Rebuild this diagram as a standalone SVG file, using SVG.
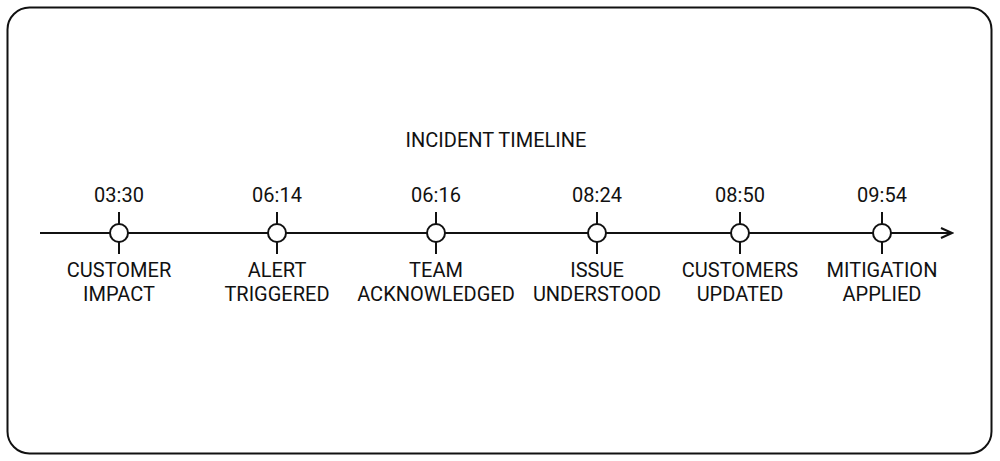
<svg xmlns="http://www.w3.org/2000/svg" width="1000" height="461" viewBox="0 0 1000 461">
<style>
text{font-family:Roboto,"Liberation Sans",sans-serif;font-size:20px;fill:#111;text-anchor:middle}
.ln{stroke:#111;stroke-width:2;fill:none}
.dot{stroke:#111;stroke-width:2;fill:#fff}
</style>
<defs>
<marker id="arr" markerWidth="14" markerHeight="12" refX="12" refY="6" orient="auto" markerUnits="userSpaceOnUse">
<path d="M1,1 L12,6 L1,11" fill="none" stroke="#111" stroke-width="2"/>
</marker>
</defs>
<rect x="7.5" y="7.5" width="984" height="446" rx="22" fill="#fff" stroke="#111" stroke-width="2"/>
<text id="title" x="496" y="147">INCIDENT TIMELINE</text>
<g id="connectors">
<line class="ln" x1="40" y1="233" x2="952" y2="233" marker-end="url(#arr)"/>
</g>
<g id="e1"><line class="ln" x1="119" y1="212" x2="119" y2="254"/><circle class="dot" cx="119" cy="233" r="9"/><text x="119" y="202">03:30</text><text x="119" y="277">CUSTOMER</text><text x="119" y="301">IMPACT</text></g>
<g id="e2"><line class="ln" x1="277" y1="212" x2="277" y2="254"/><circle class="dot" cx="277" cy="233" r="9"/><text x="277" y="202">06:14</text><text x="277" y="277">ALERT</text><text x="277" y="301">TRIGGERED</text></g>
<g id="e3"><line class="ln" x1="436" y1="212" x2="436" y2="254"/><circle class="dot" cx="436" cy="233" r="9"/><text x="436" y="202">06:16</text><text x="436" y="277">TEAM</text><text x="436" y="301">ACKNOWLEDGED</text></g>
<g id="e4"><line class="ln" x1="597" y1="212" x2="597" y2="254"/><circle class="dot" cx="597" cy="233" r="9"/><text x="597" y="202">08:24</text><text x="597" y="277">ISSUE</text><text x="597" y="301">UNDERSTOOD</text></g>
<g id="e5"><line class="ln" x1="740" y1="212" x2="740" y2="254"/><circle class="dot" cx="740" cy="233" r="9"/><text x="740" y="202">08:50</text><text x="740" y="277">CUSTOMERS</text><text x="740" y="301">UPDATED</text></g>
<g id="e6"><line class="ln" x1="882" y1="212" x2="882" y2="254"/><circle class="dot" cx="882" cy="233" r="9"/><text x="882" y="202">09:54</text><text x="882" y="277">MITIGATION</text><text x="882" y="301">APPLIED</text></g>
</svg>
